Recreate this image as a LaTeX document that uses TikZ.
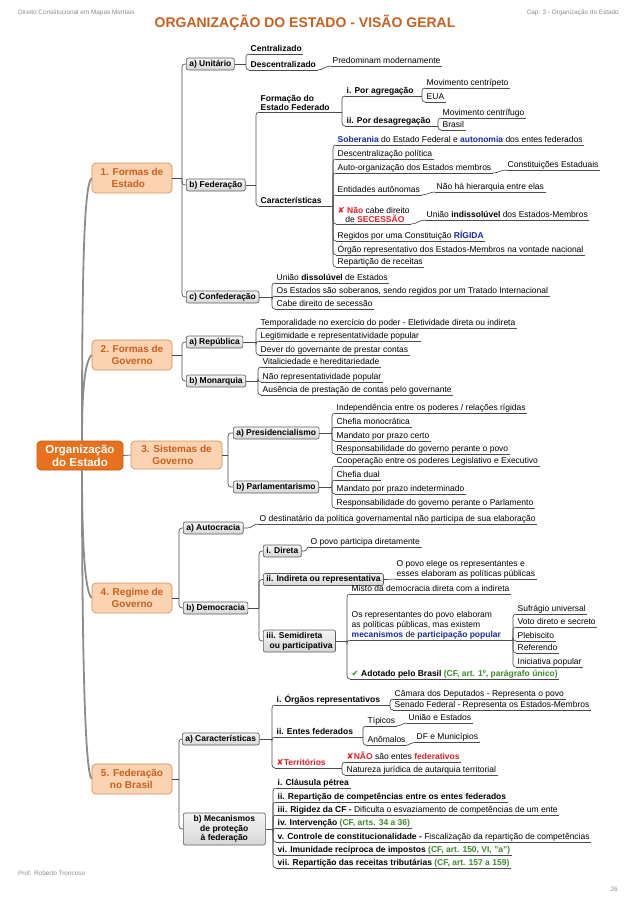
\documentclass[tikz,border=0pt]{standalone}
\usepackage{fontspec}
\setmainfont{Liberation Sans}
\newfontfamily\symf{DejaVu Sans}
\definecolor{lncol}{HTML}{4A4A4A}
\definecolor{trk}{HTML}{8C8C8C}
\definecolor{cfill}{HTML}{E8711E}
\definecolor{cbd}{HTML}{C85A10}
\definecolor{mfill}{HTML}{FCD3B0}
\definecolor{mbd}{HTML}{D58E5E}
\definecolor{mtx}{HTML}{CC5F1F}
\definecolor{boxbd}{HTML}{5E5E5E}
\definecolor{blu}{HTML}{1A2AA8}
\definecolor{rd}{HTML}{E0202A}
\definecolor{grn}{HTML}{3C8C28}
\definecolor{ttl}{HTML}{C8601E}
\definecolor{hdr}{HTML}{8A8A8A}
\newcommand\bodyf{\fontsize{8.5}{9.7}\selectfont}
\tikzset{
  ln/.style={draw=lncol, line width=0.65pt},
  cn/.style={ln, rounded corners=3pt},
  trunk/.style={draw=trk, line width=1.8pt},
  ul/.style={anchor=south west, inner xsep=1.5pt, inner ysep=0.8pt, text height=6.2pt, text depth=1.9pt, font=\bodyf, align=left},
  ml/.style={text height=, text depth=},
  gbox/.style={draw=boxbd, line width=0.65pt, rounded corners=2pt, top color=gray!8, bottom color=gray!32, inner xsep=3pt, inner ysep=2pt, text height=6.1pt, text depth=1.9pt, font=\bodyf\bfseries, minimum height=12pt, anchor=west},
  mnode/.style={draw=mbd, line width=0.7pt, fill=mfill, rounded corners=4pt, text=mtx, font=\fontsize{10}{11.5}\selectfont\bfseries, minimum width=80pt, minimum height=30pt, align=left},
  cnode/.style={draw=cbd, line width=0.7pt, fill=cfill, rounded corners=4pt, text=white, font=\fontsize{11.5}{13}\selectfont\bfseries, minimum width=86pt, minimum height=29pt, align=center},
  hdrtxt/.style={text=hdr, font=\fontsize{6.4}{7.5}\selectfont, inner sep=0pt}
}
\newcommand\U[4][]{\node[ul,#1] (#2) at #3 {#4}; \draw[ln] (#2.south west) -- (#2.south east);}
\newcommand\Br[3]{\coordinate (bxc) at (#2,0); \draw[ln] (#1) -- (#1 -| bxc);
  \foreach \ch in {#3} {\draw[cn] (#1 -| bxc) |- (\ch.south west);}}
\newcommand\BrB[3]{\coordinate (bxc) at (#2,0); \draw[ln] (#1) -- (#1 -| bxc);
  \foreach \ch in {#3} {\draw[cn] (#1 -| bxc) |- (\ch.west);}}
\newcommand\Sc[2]{\draw[ln] (#1) to[out=0,in=180] (#2.south west);}
\begin{document}
\begin{tikzpicture}[x=1pt,y=-1pt]
\fill[white] (0,0) rectangle (638,903);
\useasboundingbox (0,0) rectangle (638,903);
% header / footer
\node[hdrtxt, anchor=base west] (h1) at (18,14) {Direito Constitucional em Mapas Mentais};
\node[hdrtxt, anchor=base east] (h2) at (619,14) {Cap. 3 - Organização do Estado};
\node[text=ttl, font=\fontsize{14}{16}\selectfont\bfseries, inner sep=0pt] (title) at (305,22.5) {ORGANIZAÇÃO DO ESTADO - VISÃO GERAL};
\node[hdrtxt, anchor=base west] (f1) at (18,875) {Prof. Roberto Troncoso};
\node[hdrtxt, anchor=base east] (f2) at (618,891) {26};
% central and main nodes
\node[cnode] (c) at (80,455.5) {Organização\\do Estado};
\node[mnode] (n1) at (132,178) {1. Formas de\\\hspace*{1.1em}Estado};
\node[mnode] (n2) at (132,355) {2. Formas de\\\hspace*{1.1em}Governo};
\node[mnode, minimum width=91pt, minimum height=28pt] (n3) at (176.5,455) {3. Sistemas de\\\hspace*{1.1em}Governo};
\node[mnode] (n4) at (132,598) {4. Regime de\\\hspace*{1.1em}Governo};
\node[mnode] (n5) at (132,779) {5. Federação\\\hspace*{0.9em}no Brasil};
\draw[trunk] ([xshift=2pt]c.north) .. controls +(0,-190) and +(-7,7) .. (n1.west);
\draw[trunk] ([xshift=2pt]c.north) .. controls +(0,-50) and +(-7,7) .. (n2.west);
\draw[trunk] ([xshift=2pt]c.south) .. controls +(0,70) and +(-7,-7) .. (n4.west);
\draw[trunk] ([xshift=2pt]c.south) .. controls +(0,170) and +(-7,-7) .. (n5.west);
\draw[ln] (c.east) -- (n3.west);
% ---------- 1. Formas de Estado
\node[gbox] (unit) at (186,64) {a) Unitário};
\node[gbox] (fed) at (186,185) {b) Federação};
\node[gbox] (conf) at (186,297) {c) Confederação};
\BrB{n1.east}{182}{unit,fed,conf}
\U{cen}{(249,54)}{\textbf{Centralizado}}
\U{desc}{(249,70)}{\textbf{Descentralizado}}
\Br{unit.east}{246}{cen,desc}
\U{pred}{(331,66)}{Predominam modernamente}
\Sc{desc.south east}{pred}
\U[ml,font=\bodyf\bfseries]{form}{(259,112)}{Formação do\\Estado Federado}
\U{car}{(259,206)}{\textbf{Características}}
\Br{fed.east}{256}{form,car}
\U{agr}{(345,96)}{\textbf{i. Por agregação}}
\U{desag}{(345,126)}{\textbf{ii. Por desagregação}}
\Br{form.south east}{342}{agr,desag}
\U{mcp}{(425,88)}{Movimento centrípeto}
\U{eua}{(425,102)}{EUA}
\Br{agr.south east}{422}{mcp,eua}
\U{mcf}{(441,118)}{Movimento centrífugo}
\U{bra}{(441,130)}{Brasil}
\Br{desag.south east}{438}{mcf,bra}
\U{sob}{(336,145)}{\textcolor{blu}{\textbf{Soberania}} do Estado Federal e \textcolor{blu}{\textbf{autonomia}} dos entes federados}
\U{dpol}{(336,159)}{Descentralização política}
\U{auto}{(336,173)}{Auto-organização dos Estados membros}
\U{ent}{(336,195)}{Entidades autônomas}
\U[ml]{sec}{(336,224)}{{\symf\textcolor{rd}{✘}} \textcolor{rd}{\textbf{Não}} cabe direito\\\hspace*{0.9em}de \textcolor{rd}{\textbf{SECESSÃO}}}
\U{rig}{(336,241)}{Regidos por uma Constituição \textcolor{blu}{\textbf{RÍGIDA}}}
\U{org}{(336,255)}{Órgão representativo dos Estados-Membros na vontade nacional}
\U{rep}{(336,267)}{Repartição de receitas}
\Br{car.south east}{333}{sob,dpol,auto,ent,sec,rig,org,rep}
\U{ce}{(506,170)}{Constituições Estaduais}
\Sc{auto.south east}{ce}
\U{hier}{(435,192)}{Não há hierarquia entre elas}
\Sc{ent.south east}{hier}
\U{ind}{(425,220)}{União \textbf{indissolúvel} dos Estados-Membros}
\Sc{sec.south east}{ind}
\U{udis}{(275,283)}{União \textbf{dissolúvel} de Estados}
\U{osest}{(275,296)}{Os Estados são soberanos, sendo regidos por um Tratado Internacional}
\U{cabe}{(275,309)}{Cabe direito de secessão}
\Br{conf.east}{272}{udis,osest,cabe}
% ---------- 2. Formas de Governo
\node[gbox] (repu) at (186,342) {a) República};
\node[gbox] (mona) at (186,381) {b) Monarquia};
\BrB{n2.east}{182}{repu,mona}
\U{temp}{(259,328)}{Temporalidade no exercício do poder - Eletividade direta ou indireta}
\U{legi}{(259,341)}{Legitimidade e representatividade popular}
\U{dever}{(259,355)}{Dever do governante de prestar contas}
\Br{repu.east}{256}{temp,legi,dever}
\U{vita}{(261,367)}{Vitaliciedade e hereditariedade}
\U{nrep}{(261,382)}{Não representatividade popular}
\U{ause}{(261,395)}{Ausência de prestação de contas pelo governante}
\Br{mona.east}{258}{vita,nrep,ause}
% ---------- 3. Sistemas de Governo
\node[gbox] (pres) at (233,433) {a) Presidencialismo};
\node[gbox] (parl) at (233,487) {b) Parlamentarismo};
\BrB{n3.east}{228}{pres,parl}
\U{ia}{(335,413)}{Independência entre os poderes / relações rígidas}
\U{ib}{(335,427)}{Chefia monocrática}
\U{ic}{(335,441)}{Mandato por prazo certo}
\U{id}{(335,454)}{Responsabilidade do governo perante o povo}
\Br{pres.east}{332}{ia,ib,ic,id}
\U{pa}{(335,466)}{Cooperação entre os poderes Legislativo e Executivo}
\U{pb}{(335,480)}{Chefia dual}
\U{pc}{(335,494)}{Mandato por prazo indeterminado}
\U{pd}{(335,508)}{Responsabilidade do governo perante o Parlamento}
\Br{parl.east}{332}{pa,pb,pc,pd}
% ---------- 4. Regime de Governo
\node[gbox] (autoc) at (183,528) {a) Autocracia};
\node[gbox] (demo) at (183,608) {b) Democracia};
\BrB{n4.east}{179}{autoc,demo}
\U{odest}{(258,524)}{O destinatário da política governamental não participa de sua elaboração}
\draw[ln] (autoc.east) -- ++(4,0) to[out=0,in=180] (odest.south west);
\node[gbox] (dir) at (263,551) {i. Direta};
\node[gbox] (indr) at (263,579.5) {ii. Indireta ou representativa};
\node[gbox, ml, align=left, minimum height=22pt] (semi) at (263,641) {iii. Semidireta\\\hspace*{0.4em}ou participativa};
\BrB{demo.east}{259}{dir,indr,semi}
\U{opd}{(309,547)}{O povo participa diretamente}
\draw[ln] (dir.east) -- ++(3,0) to[out=0,in=180] (opd.south west);
\U[ml]{opel}{(395,579)}{O povo elege os representantes e\\esses elaboram as políticas públicas}
\draw[ln] (indr.east) -- ++(3,0) to[out=0,in=180] (opel.south west);
\U{misto}{(350,594)}{Misto da democracia direta com a indireta}
\U[ml]{osrep}{(350,640)}{Os representantes do povo elaboram\\as políticas públicas, mas existem\\\textcolor{blu}{\textbf{mecanismos}} de \textcolor{blu}{\textbf{participação popular}}}
\U{adot}{(350,679)}{{\symf\textcolor{grn}{✔}} \textbf{Adotado pelo Brasil} \textcolor{grn}{\textbf{(CF, art. 1º, parágrafo único)}}}
\Br{semi.east}{347}{misto,osrep,adot}
\U{suf}{(516,614)}{Sufrágio universal}
\U{voto}{(516,627)}{Voto direto e secreto}
\U{pleb}{(516,641)}{Plebiscito}
\U{refe}{(516,653)}{Referendo}
\U{inic}{(516,667)}{Iniciativa popular}
\Br{osrep.south east}{513}{suf,voto,pleb,refe,inic}
% ---------- 5. Federação no Brasil
\node[gbox] (carac) at (182,739) {a) Características};
\node[gbox, ml, align=center, minimum height=32pt, minimum width=82pt] (meca) at (183,829) {b) Mecanismos\\de proteção\\à federação};
\BrB{n5.east}{179}{carac,meca}
\U{orgr}{(275,705)}{\textbf{i. Órgãos representativos}}
\U{entf}{(275,737)}{\textbf{ii. Entes federados}}
\U{terr}{(275,768)}{\textcolor{rd}{{\symf ✘}\textbf{Territórios}}}
\Br{carac.east}{272}{orgr,entf,terr}
\U{cam}{(393,699)}{Câmara dos Deputados - Representa o povo}
\U{sen}{(393,710)}{Senado Federal - Representa os Estados-Membros}
\Br{orgr.south east}{390}{cam,sen}
\U{tip}{(366,726)}{Típicos}
\U{anom}{(366,745)}{Anômalos}
\Br{entf.south east}{363}{tip,anom}
\U{uest}{(407,723)}{União e Estados}
\Sc{tip.south east}{uest}
\U{dfm}{(415,742)}{DF e Municípios}
\Sc{anom.south east}{dfm}
\U{nao}{(345,762)}{\textcolor{rd}{{\symf ✘}\textbf{NÃO}} são entes \textcolor{rd}{\textbf{federativos}}}
\U{natu}{(345,775)}{Natureza jurídica de autarquia territorial}
\Br{terr.south east}{342}{nao,natu}
\U{ma}{(276,788)}{\textbf{i. Cláusula pétrea}}
\U{mb}{(276,802)}{\textbf{ii. Repartição de competências entre os entes federados}}
\U{mc}{(276,815)}{\textbf{iii. Rigidez da CF -} Dificulta o esvaziamento de competências de um ente}
\U{md}{(276,828)}{\textbf{iv. Intervenção} \textcolor{grn}{\textbf{(CF, arts. 34 a 36)}}}
\U{me}{(276,842)}{\textbf{v. Controle de constitucionalidade -} Fiscalização da repartição de competências}
\U{mf}{(276,855)}{\textbf{vi. Imunidade recíproca de impostos} \textcolor{grn}{\textbf{(CF, art. 150, VI, "a")}}}
\U{mg}{(276,868)}{\textbf{vii. Repartição das receitas tributárias} \textcolor{grn}{\textbf{(CF, art. 157 a 159)}}}
\Br{meca.east}{273}{ma,mb,mc,md,me,mf,mg}
\end{tikzpicture}
\end{document}
